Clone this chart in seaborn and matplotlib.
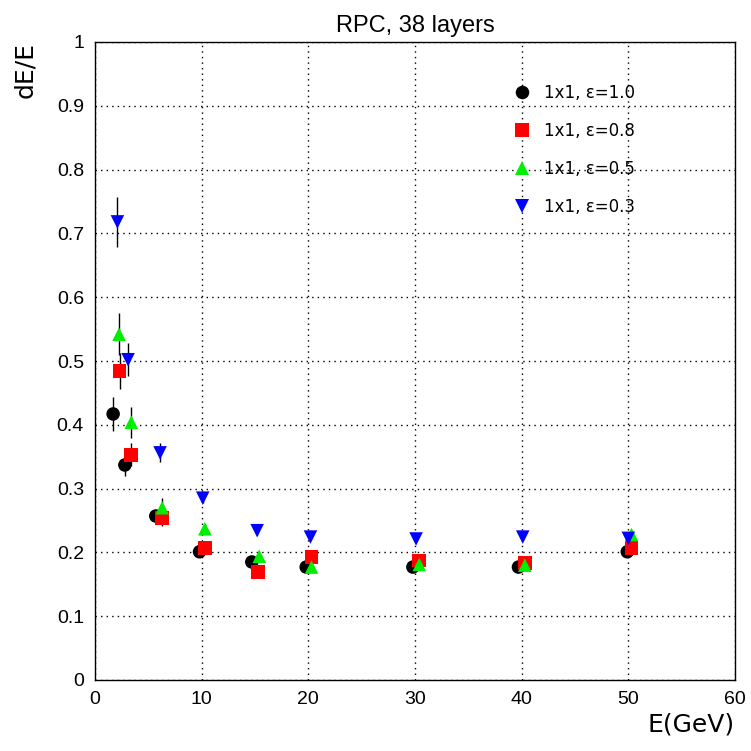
import numpy as np
import pandas as pd
import matplotlib
matplotlib.use("Agg")
import matplotlib.pyplot as plt
import seaborn as sns

labels = ["1x1, ε=1.0", "1x1, ε=0.8", "1x1, ε=0.5", "1x1, ε=0.3"]
colors = ["black", "red", "#00ee00", "blue"]
markers = ["o", "s", "^", "v"]

e10_x = [1.7, 2.8, 5.7, 9.8, 14.7, 19.8, 29.8, 39.7, 49.9]
e10_y = [0.417, 0.337, 0.257, 0.201, 0.185, 0.177, 0.177, 0.177, 0.201]
e10_err = [0.026, 0.017, 0.008, 0.005, 0.004, 0.004, 0.004, 0.004, 0.004]

e08_x = [2.3, 3.4, 6.3, 10.3, 15.3, 20.3, 30.4, 40.3, 50.3]
e08_y = [0.484, 0.353, 0.254, 0.207, 0.169, 0.193, 0.187, 0.183, 0.207]
e08_err = [0.028, 0.018, 0.012, 0.006, 0.004, 0.004, 0.004, 0.004, 0.004]

e05_x = [2.25, 3.4, 6.3, 10.3, 15.4, 20.3, 30.4, 40.3, 50.3]
e05_y = [0.542, 0.404, 0.27, 0.237, 0.194, 0.177, 0.181, 0.180, 0.228]
e05_err = [0.033, 0.024, 0.015, 0.007, 0.005, 0.004, 0.004, 0.004, 0.004]

e03_x = [2.1, 3.1, 6.1, 10.1, 15.2, 20.2, 30.1, 40.1, 50.0]
e03_y = [0.718, 0.502, 0.356, 0.285, 0.234, 0.224, 0.221, 0.224, 0.222]
e03_err = [0.039, 0.026, 0.015, 0.008, 0.006, 0.005, 0.005, 0.005, 0.005]

series = [(e10_x, e10_y, e10_err), (e08_x, e08_y, e08_err),
          (e05_x, e05_y, e05_err), (e03_x, e03_y, e03_err)]

frames = []
for lab, (x, y, err) in zip(labels, series):
    frames.append(pd.DataFrame({"E": x, "dEE": y, "err": err, "set": lab}))
df = pd.concat(frames, ignore_index=True)

sns.set_style("white")
plt.rcParams['font.family'] = ['Liberation Sans', 'DejaVu Sans']
plt.rcParams['text.color'] = 'black'
plt.rcParams['axes.labelcolor'] = 'black'

fig = plt.figure(figsize=(7.51, 7.51), dpi=100)
ax = fig.add_axes([95/751, 1-680/751, (735-95)/751, (680-42)/751])

for lab, (x, y, err) in zip(labels, series):
    ax.errorbar(x, y, yerr=err, fmt="none", ecolor="black", elinewidth=1.0, capsize=0, zorder=2)

sns.scatterplot(data=df, x="E", y="dEE", hue="set", style="set",
                palette=dict(zip(labels, colors)), markers=dict(zip(labels, markers)),
                s=95, edgecolor="none", linewidth=0, ax=ax, zorder=3, legend=True)

ax.set_xlim(0, 60)
ax.set_ylim(0, 1)
ax.set_xticks(np.arange(0, 61, 10))
ax.set_xticks(np.arange(0, 61, 2), minor=True)
ax.set_yticks(np.round(np.arange(0, 1.01, 0.1), 1))
ax.set_yticks(np.arange(0, 1.001, 0.02), minor=True)
ax.set_yticklabels(["0", "0.1", "0.2", "0.3", "0.4", "0.5", "0.6", "0.7", "0.8", "0.9", "1"])
ax.tick_params(axis="both", which="major", direction="in", length=12, width=1, labelsize=14,
               top=False, right=False, pad=8, colors="black")
ax.tick_params(axis="both", which="minor", direction="in", length=6, width=1,
               top=False, right=False)
ax.grid(True, which="major", linestyle=(0, (1, 3)), color="black", linewidth=1)
for sp in ax.spines.values():
    sp.set_color("black")
    sp.set_linewidth(1)

ax.set_xlabel("E(GeV)", fontsize=18, loc="right", labelpad=3, family="DejaVu Sans", color="black")
ax.set_ylabel("dE/E", fontsize=18, loc="top", labelpad=14, family="DejaVu Sans", color="black")
ax.set_title("RPC, 38 layers", fontsize=17, pad=7, color="black")

handles, labs = ax.get_legend_handles_labels()
leg = ax.legend(handles, labs, loc="upper left", bbox_to_anchor=(0.63, 0.958),
                frameon=False, labelspacing=1.2, handletextpad=0.85,
                handlelength=1.0, markerscale=1.0, labelcolor="black",
                prop={"family": "DejaVu Sans", "size": 12})

fig.savefig("out.png", dpi=100)
